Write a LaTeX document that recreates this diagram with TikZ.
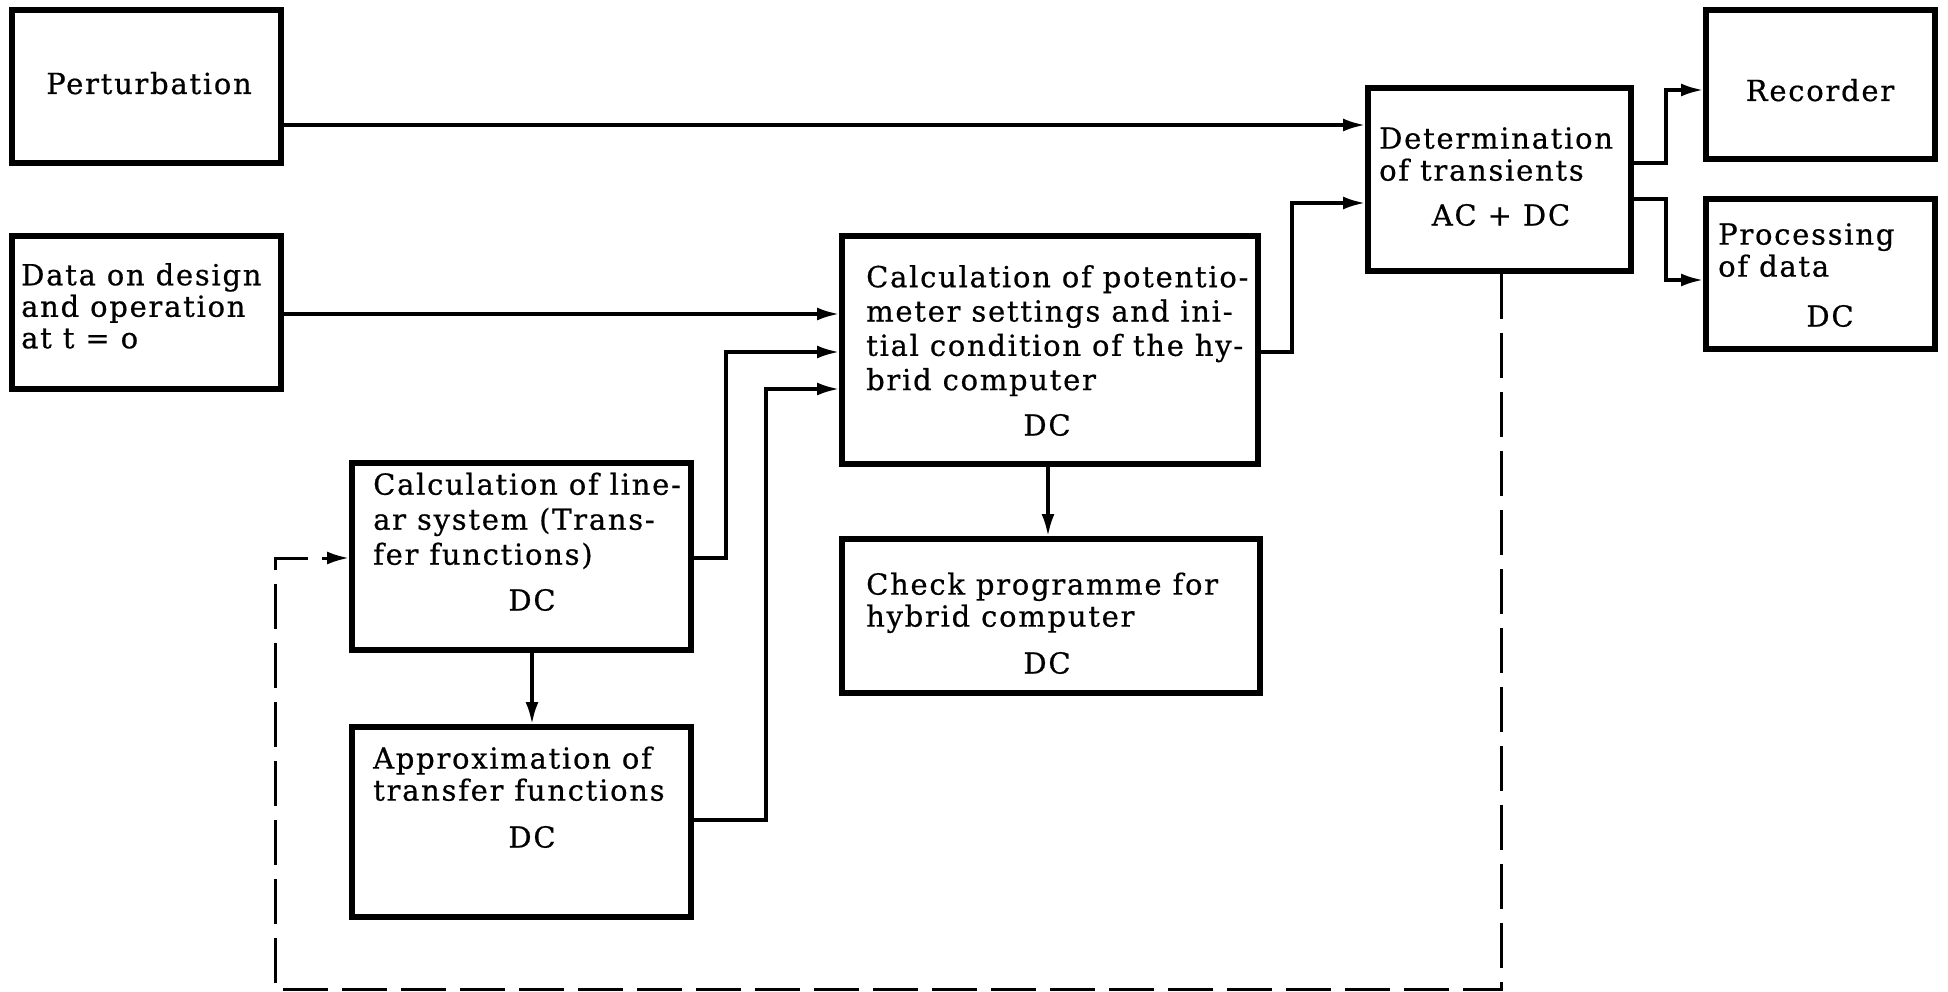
\documentclass[tikz,border=0pt]{standalone}
\usepackage{fontspec}
\setmainfont{DejaVu Serif}[LetterSpace=6.0, FakeBold=0.6]
\usetikzlibrary{arrows.meta}
\tikzset{
  box/.style={draw, line width=6pt, inner sep=0pt, anchor=center},
  conn/.style={line width=3.2pt, -{Latex[length=22pt,width=13pt]}},
  fb/.style={line width=3pt, dash pattern=on 45pt off 14pt, -{Latex[length=22pt,width=13pt]}},
  txt/.style={inner sep=0pt, align=left, font=\fontsize{29}{33}\selectfont},
}
\begin{document}
\begin{tikzpicture}[x=1pt,y=-1pt]
\useasboundingbox (0,0) rectangle (1948,992);
% boxes
\node[box, minimum width=269pt, minimum height=153pt] (pert) at (146.5,86.5) {};
\node[box, minimum width=269pt, minimum height=153pt] (data) at (146.5,312.5) {};
\node[box, minimum width=263pt, minimum height=183pt] (det) at (1499.5,179.5) {};
\node[box, minimum width=229pt, minimum height=149pt] (rec) at (1820.5,84.5) {};
\node[box, minimum width=229pt, minimum height=150pt] (proc) at (1820.5,274) {};
\node[box, minimum width=416pt, minimum height=228pt] (calc) at (1050,350) {};
\node[box, minimum width=418pt, minimum height=154pt] (check) at (1051,616) {};
\node[box, minimum width=339pt, minimum height=187pt] (lin) at (521.5,556.5) {};
\node[box, minimum width=339pt, minimum height=190pt] (appr) at (521.5,822) {};
% texts
\node[txt, anchor=base] (pertt) at (149,94) {Perturbation};
\node[txt, anchor=north west, font=\fontsize{29}{31.5}\selectfont] (datat) at (21,263) {\strut Data on design\\and operation\\at t = o};
\node[txt, anchor=north west, font=\fontsize{29}{32}\selectfont] (dett) at (1379,126) {\strut Determination\\of transients};
\node[txt] (detdc) at (1501,215) {AC + DC};
\node[txt, anchor=base] (rect) at (1820,101) {Recorder};
\node[txt, anchor=north west, font=\fontsize{29}{32}\selectfont] (proct) at (1718,222) {\strut Processing\\of data};
\node[txt] (procdc) at (1830,316) {DC};
\node[txt, anchor=north west, font=\fontsize{29}{34.3}\selectfont] (calct) at (866,263) {\strut Calculation of potentio-\\meter settings and ini-\\tial condition of the hy-\\brid computer};
\node[txt] (calcdc) at (1047,425) {DC};
\node[txt, anchor=north west, font=\fontsize{29}{32}\selectfont] (checkt) at (866,572) {\strut Check programme for\\hybrid computer};
\node[txt] (checkdc) at (1047,663) {DC};
\node[txt, anchor=north west, font=\fontsize{29}{35}\selectfont] (lint) at (373,470) {\strut Calculation of line-\\ar system (Trans-\\fer functions)};
\node[txt] (lindc) at (532,600) {DC};
\node[txt, anchor=north west, font=\fontsize{29}{32}\selectfont] (apprt) at (373,746) {\strut Approximation of\\transfer functions};
\node[txt] (apprdc) at (532,837) {DC};
% connectors
\draw[conn] (pert.east |- 0,125) -- (det.west |- 0,125);
\draw[conn] (data.east |- 0,314) -- (calc.west |- 0,314);
\draw[conn] (lin.east |- 0,558) -| (726,352) -- (calc.west |- 0,352);
\draw[conn] (appr.east |- 0,820) -| (766,389) -- (calc.west |- 0,389);
\draw[conn] (calc.east |- 0,352) -| (1292,203) -- (det.west |- 0,203);
\draw[conn] (det.east |- 0,163) -| (1666,90) -- (rec.west |- 0,90);
\draw[conn] (det.east |- 0,199) -| (1666,280) -- (proc.west |- 0,280);
\draw[conn] (calc.south -| 1048,0) -- (check.north -| 1048,0);
\draw[conn] (lin.south -| 532,0) -- (appr.north -| 532,0);
\draw[fb] (det.south -| 1501,0) -- (1501,989) -- (275,989) -- (275,558) -- (lin.west |- 0,558);
\end{tikzpicture}
\end{document}
